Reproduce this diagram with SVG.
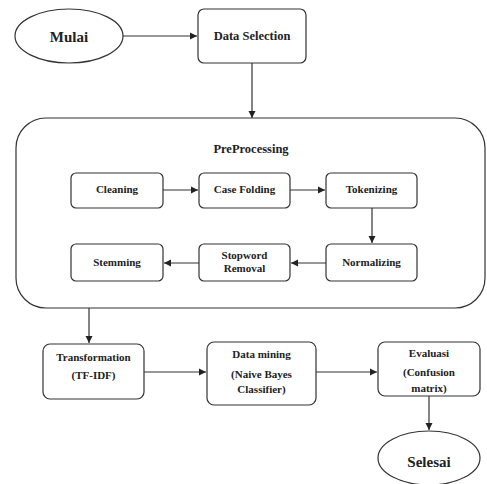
<svg xmlns="http://www.w3.org/2000/svg" width="487" height="484" viewBox="0 0 487 484">
<defs>
<style>
.box{fill:#fff;stroke:#333;stroke-width:1.2}
.big{fill:#fff;stroke:#333;stroke-width:1.2}
text{font-family:'Liberation Serif','Times New Roman',Tinos,'DejaVu Serif',serif;font-weight:bold;fill:#222;text-anchor:middle}
.s11{font-size:11px}
.s12{font-size:12.5px}
.s15{font-size:15px}
.c{fill:none;stroke:#333;stroke-width:1.2;marker-end:url(#ah)}
</style>
<marker id="ah" markerWidth="8" markerHeight="8" refX="7" refY="4" orient="auto" markerUnits="userSpaceOnUse">
<path d="M0,0.5 L7,4 L0,7.5 Z" fill="#222"/>
</marker>
</defs>
<rect width="487" height="484" fill="#fff"/>
<g id="preprocessing">
<rect class="big" x="16" y="118" width="469" height="190" rx="30" ry="30"/>
<text class="s12" x="251" y="153">PreProcessing</text>
</g>
<g id="mulai">
<ellipse class="box" cx="69" cy="36" rx="54" ry="27"/>
<text class="s15" x="69" y="42">Mulai</text>
</g>
<g id="data-selection">
<rect class="box" x="198" y="9" width="108" height="54" rx="6"/>
<text class="s12" x="252" y="40">Data Selection</text>
</g>
<g id="cleaning">
<rect class="box" x="71" y="173" width="92" height="35" rx="5"/>
<text class="s11" x="117" y="193">Cleaning</text>
</g>
<g id="case-folding">
<rect class="box" x="199" y="173" width="91" height="35" rx="5"/>
<text class="s11" x="244.5" y="193">Case Folding</text>
</g>
<g id="tokenizing">
<rect class="box" x="326" y="173" width="91" height="35" rx="5"/>
<text class="s11" x="371.5" y="193">Tokenizing</text>
</g>
<g id="stemming">
<rect class="box" x="71" y="244" width="92" height="37" rx="5"/>
<text class="s11" x="117" y="266">Stemming</text>
</g>
<g id="stopword-removal">
<rect class="box" x="199" y="244" width="91" height="37" rx="5"/>
<text class="s11" x="244.5" y="259">Stopword</text>
<text class="s11" x="244.5" y="272">Removal</text>
</g>
<g id="normalizing">
<rect class="box" x="326" y="244" width="91" height="37" rx="5"/>
<text class="s11" x="371.5" y="266">Normalizing</text>
</g>
<g id="transformation">
<rect class="box" x="43" y="344" width="101" height="55" rx="7"/>
<text class="s11" x="93.5" y="361">Transformation</text>
<text class="s11" x="93.5" y="379">(TF-IDF)</text>
</g>
<g id="data-mining">
<rect class="box" x="207" y="342" width="109" height="63" rx="7"/>
<text class="s11" x="261.5" y="358">Data mining</text>
<text class="s11" x="261.5" y="378">(Naive Bayes</text>
<text class="s11" x="261.5" y="393">Classifier)</text>
</g>
<g id="evaluasi">
<rect class="box" x="378" y="342" width="102" height="54" rx="7"/>
<text class="s11" x="429" y="357">Evaluasi</text>
<text class="s11" x="429" y="376">(Confusion</text>
<text class="s11" x="429" y="392">matrix)</text>
</g>
<g id="selesai">
<ellipse class="box" cx="429" cy="458" rx="51" ry="27"/>
<text class="s15" x="429" y="467">Selesai</text>
</g>
<g id="connectors">
<line class="c" x1="123" y1="36" x2="197" y2="36"/>
<line class="c" x1="252" y1="63" x2="252" y2="118"/>
<line class="c" x1="163" y1="190" x2="198" y2="190"/>
<line class="c" x1="290" y1="190" x2="325" y2="190"/>
<line class="c" x1="372" y1="208" x2="372" y2="243"/>
<line class="c" x1="326" y1="263" x2="291" y2="263"/>
<line class="c" x1="199" y1="263" x2="164" y2="263"/>
<line class="c" x1="89" y1="308" x2="89" y2="343"/>
<line class="c" x1="144" y1="372" x2="206" y2="372"/>
<line class="c" x1="316" y1="372" x2="377" y2="372"/>
<line class="c" x1="429" y1="396" x2="429" y2="430"/>
</g>
</svg>
